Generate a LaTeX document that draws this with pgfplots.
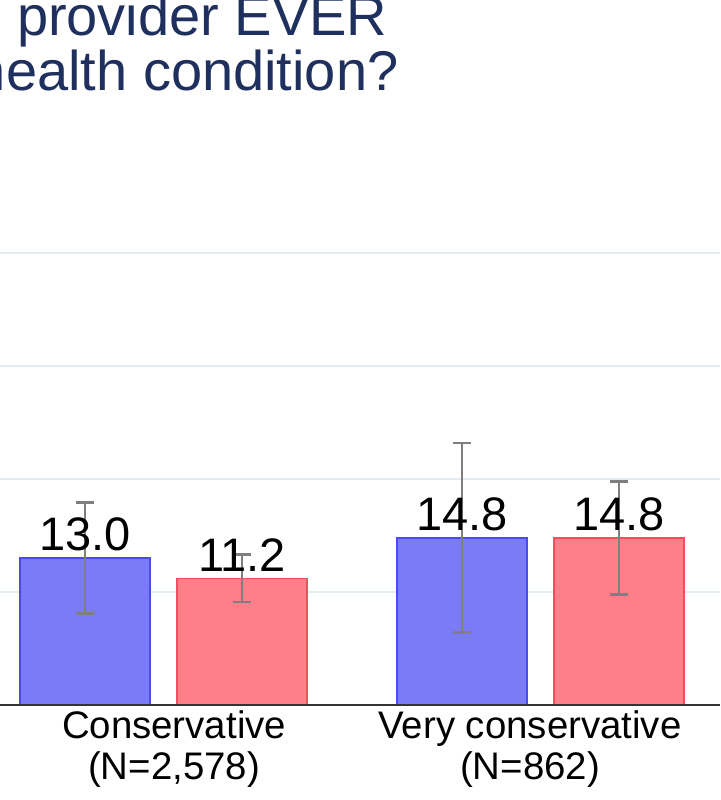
\documentclass[border=0pt]{standalone}
\usepackage{fontspec}
\setmainfont{Liberation Sans}
\usepackage{pgfplots}
\pgfplotsset{compat=1.18}

\definecolor{leftfill}{HTML}{7B7BF8}
\definecolor{leftedge}{HTML}{4A4AEE}
\definecolor{rightfill}{HTML}{FF7F88}
\definecolor{rightedge}{HTML}{EE5060}
\definecolor{errgray}{HTML}{7F7F7F}
\definecolor{gridc}{HTML}{E4ECF1}
\definecolor{titlec}{HTML}{1F305E}

\begin{document}
\begin{tikzpicture}
\begin{scope}
\clip (0pt,-47.5pt) rectangle (360pt,352.5pt);
\begin{axis}[
    scale only axis,
    width=360pt, height=352.5pt,
    xmin=-0.4335, xmax=1.4754,
    ymin=0, ymax=62.39,
    axis line style={draw=none},
    ytick={10,20,30,40},
    yticklabels={},
    ymajorgrids,
    grid style={gridc, line width=1pt},
    xtick={0.028,0.9717},
    xticklabels={{Conservative\\(N=2,578)},{Very conservative\\(N=862)}},
    xticklabel style={align=center, anchor=north, inner sep=0pt, yshift=-2.5pt,
        font=\fontsize{19.2}{20.7}\selectfont},
    major tick length=0pt,
    /pgf/number format/assume math mode=true,
    ybar, bar width=65pt,
    clip=false,
    nodes near coords={\pgfmathprintnumber[fixed,fixed zerofill,precision=1]{\pgfplotspointmeta}},
    every node near coord/.append style={anchor=south, inner sep=0pt, yshift=3.2pt,
        text=black, font=\fontsize{23.5}{23.5}\selectfont},
]

% left series (blue)
\addplot[fill=leftfill, draw=leftedge, line width=0.75pt, bar shift=-39.25pt,
    error bars/.cd, y dir=both, y explicit,
    error bar style={errgray, line width=1.25pt},
    error mark=-,
    error mark options={rotate=90, errgray, line width=1.25pt, mark size=4.5pt}]
    coordinates {(0,13.0) +- (0,4.9) (1,14.8) +- (0,8.4)};

% right series (red)
\addplot[fill=rightfill, draw=rightedge, line width=0.75pt, bar shift=39.25pt,
    error bars/.cd, y dir=both, y explicit,
    error bar style={errgray, line width=1.25pt},
    error mark=-,
    error mark options={rotate=90, errgray, line width=1.25pt, mark size=4.5pt}]
    coordinates {(0,11.2) +- (0,2.1) (1,14.8) +- (0,5.0)};

\draw[black!80, line width=0.75pt] (rel axis cs:0,0) -- (rel axis cs:1,0);
\end{axis}

% title (cropped at the left)
\node[anchor=base east, inner sep=0pt, text=titlec, font=\fontsize{28}{28}\selectfont]
    at (194pt,334.5pt) {Has a doctor or other health care provider EVER};
\node[anchor=base east, inner sep=0pt, text=titlec, font=\fontsize{28}{28}\selectfont]
    at (199.5pt,307pt) {told you that you have a mental health condition?};
\end{scope}
\pgfresetboundingbox
\path (0pt,-47.5pt) rectangle (360pt,352.5pt);
\end{tikzpicture}
\end{document}
